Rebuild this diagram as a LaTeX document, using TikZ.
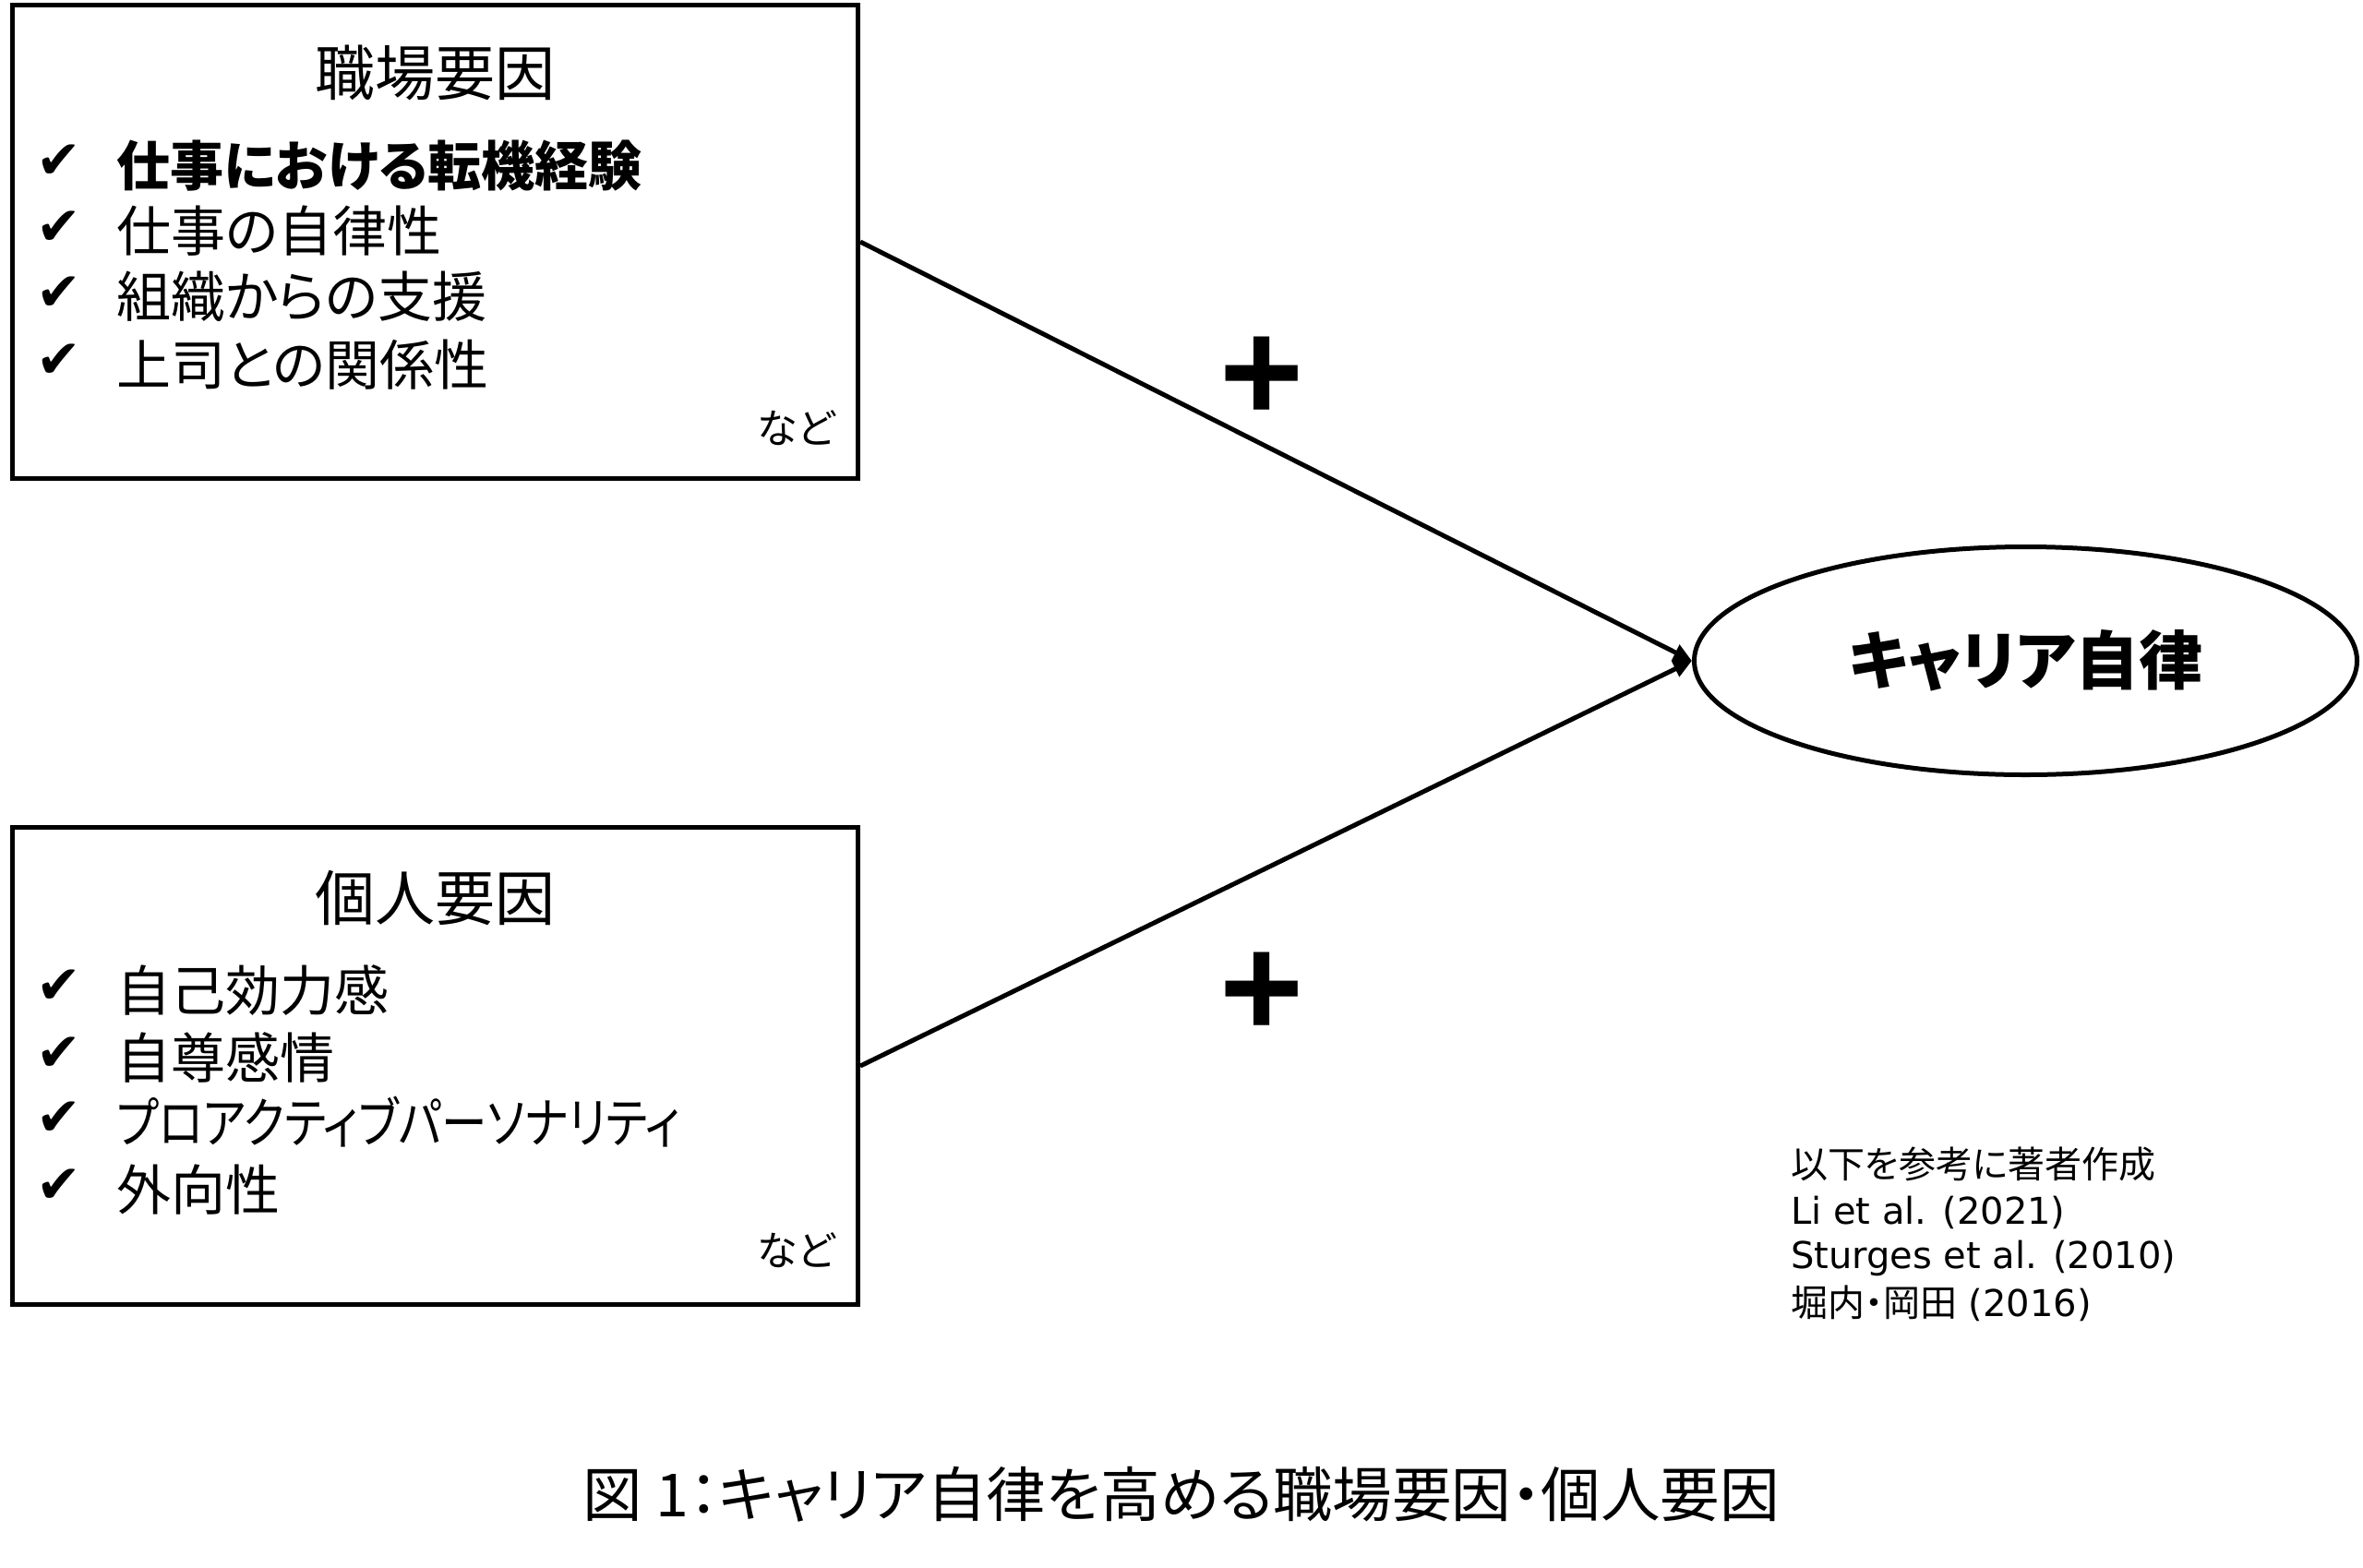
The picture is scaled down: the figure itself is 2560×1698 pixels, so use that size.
\documentclass[tikz,border=0pt]{standalone}
\usepackage{fontspec}
\usetikzlibrary{shapes.geometric,arrows.meta}
\newfontfamily\jp[RawFeature=+palt]{Noto Sans CJK JP}
\newfontfamily\jpn[RawFeature=+palt, FakeStretch=0.84]{Noto Sans CJK JP}
\newfontfamily\lat{DejaVu Sans}
\newfontfamily\plusfont{Liberation Sans}
\tikzset{
  box/.style={draw, line width=5pt, inner sep=0pt, minimum width=916pt},
  headtxt/.style={font=\jp\fontsize{65}{70}\selectfont, inner sep=0pt},
  itemtxt/.style={font=\jp\fontsize{59}{64}\selectfont, anchor=west, inner sep=0pt},
  chk/.style={font=\lat\fontsize{58}{62}\selectfont, inner sep=0pt},
  etctxt/.style={font=\jp\fontsize{44}{48}\selectfont, anchor=east, inner sep=0pt},
  reftxt/.style={font=\jp\fontsize{40}{44}\selectfont, anchor=west, inner sep=0pt},
  plustxt/.style={font=\plusfont\bfseries\fontsize{156}{160}\selectfont, inner sep=0pt},
  conn/.style={line width=5pt, -{Triangle[length=20pt,width=18pt]}},
}
\begin{document}
\begin{tikzpicture}[x=1pt,y=-1pt]
\fill[white] (0,0) rectangle (2560,1698);
\useasboundingbox (0,0) rectangle (2560,1698);

% work factors box
\node[box, minimum height=513pt] (work) at (471.5,262) {};
\node[headtxt] (workh) at (471,79) {職場要因};
\node[chk] (wc1) at (64,175) {✔};
\node[chk] (wc2) at (64,247) {✔};
\node[chk] (wc3) at (64,318) {✔};
\node[chk] (wc4) at (64,391) {✔};
\node[itemtxt, font=\jp\bfseries\fontsize{58}{64}\selectfont] (w1) at (126,180) {仕事における転機経験};
\node[itemtxt] (w2) at (126,250) {仕事の自律性};
\node[itemtxt] (w3) at (126,321) {組織からの支援};
\node[itemtxt] (w4) at (126,395) {上司との関係性};
\node[etctxt] (wetc) at (905,464) {など};

% personal factors box
\node[box, minimum height=517pt] (pers) at (471.5,1155) {};
\node[headtxt] (persh) at (471,973) {個人要因};
\node[chk] (pc1) at (64,1069) {✔};
\node[chk] (pc2) at (64,1142) {✔};
\node[chk] (pc3) at (64,1212) {✔};
\node[chk] (pc4) at (64,1285) {✔};
\node[itemtxt] (p1) at (126,1073) {自己効力感};
\node[itemtxt] (p2) at (126,1146) {自尊感情};
\node[itemtxt, font=\jpn\fontsize{59}{64}\selectfont] (p3) at (126,1216) {プロアクティブパーソナリティ};
\node[itemtxt] (p4) at (126,1289) {外向性};
\node[etctxt] (petc) at (905,1355) {など};

% outcome
\node[draw, ellipse, line width=5pt, minimum width=718pt, minimum height=247pt, inner sep=0pt,
      font=\jp\bfseries\fontsize{69}{74}\selectfont] (ca) at (2194.5,716) {キャリア自律};

% connectors
\draw[conn] (work.east) -- (ca.west);
\draw[conn] (pers.east) -- (ca.west);

\node[plustxt] (plus1) at (1367,411) {+};
\node[plustxt] (plus2) at (1367,1078) {+};

% references
\node[reftxt] (r1) at (1940,1261) {以下を参考に著者作成};
\node[reftxt, font=\lat\fontsize{40}{44}\selectfont] (r2) at (1940,1314) {Li et al. (2021)};
\node[reftxt, font=\lat\fontsize{40}{44}\selectfont] (r3) at (1940,1363) {Sturges et al. (2010)};
\node[reftxt] (r4) at (1940,1412) {堀内・岡田{\lat\ (2016)}};

% caption
\node[font=\jp\fontsize{64.5}{70}\selectfont, inner sep=0pt] (cap) at (1279.5,1619) {図 1：キャリア自律を高める職場要因・個人要因};
\end{tikzpicture}
\end{document}
